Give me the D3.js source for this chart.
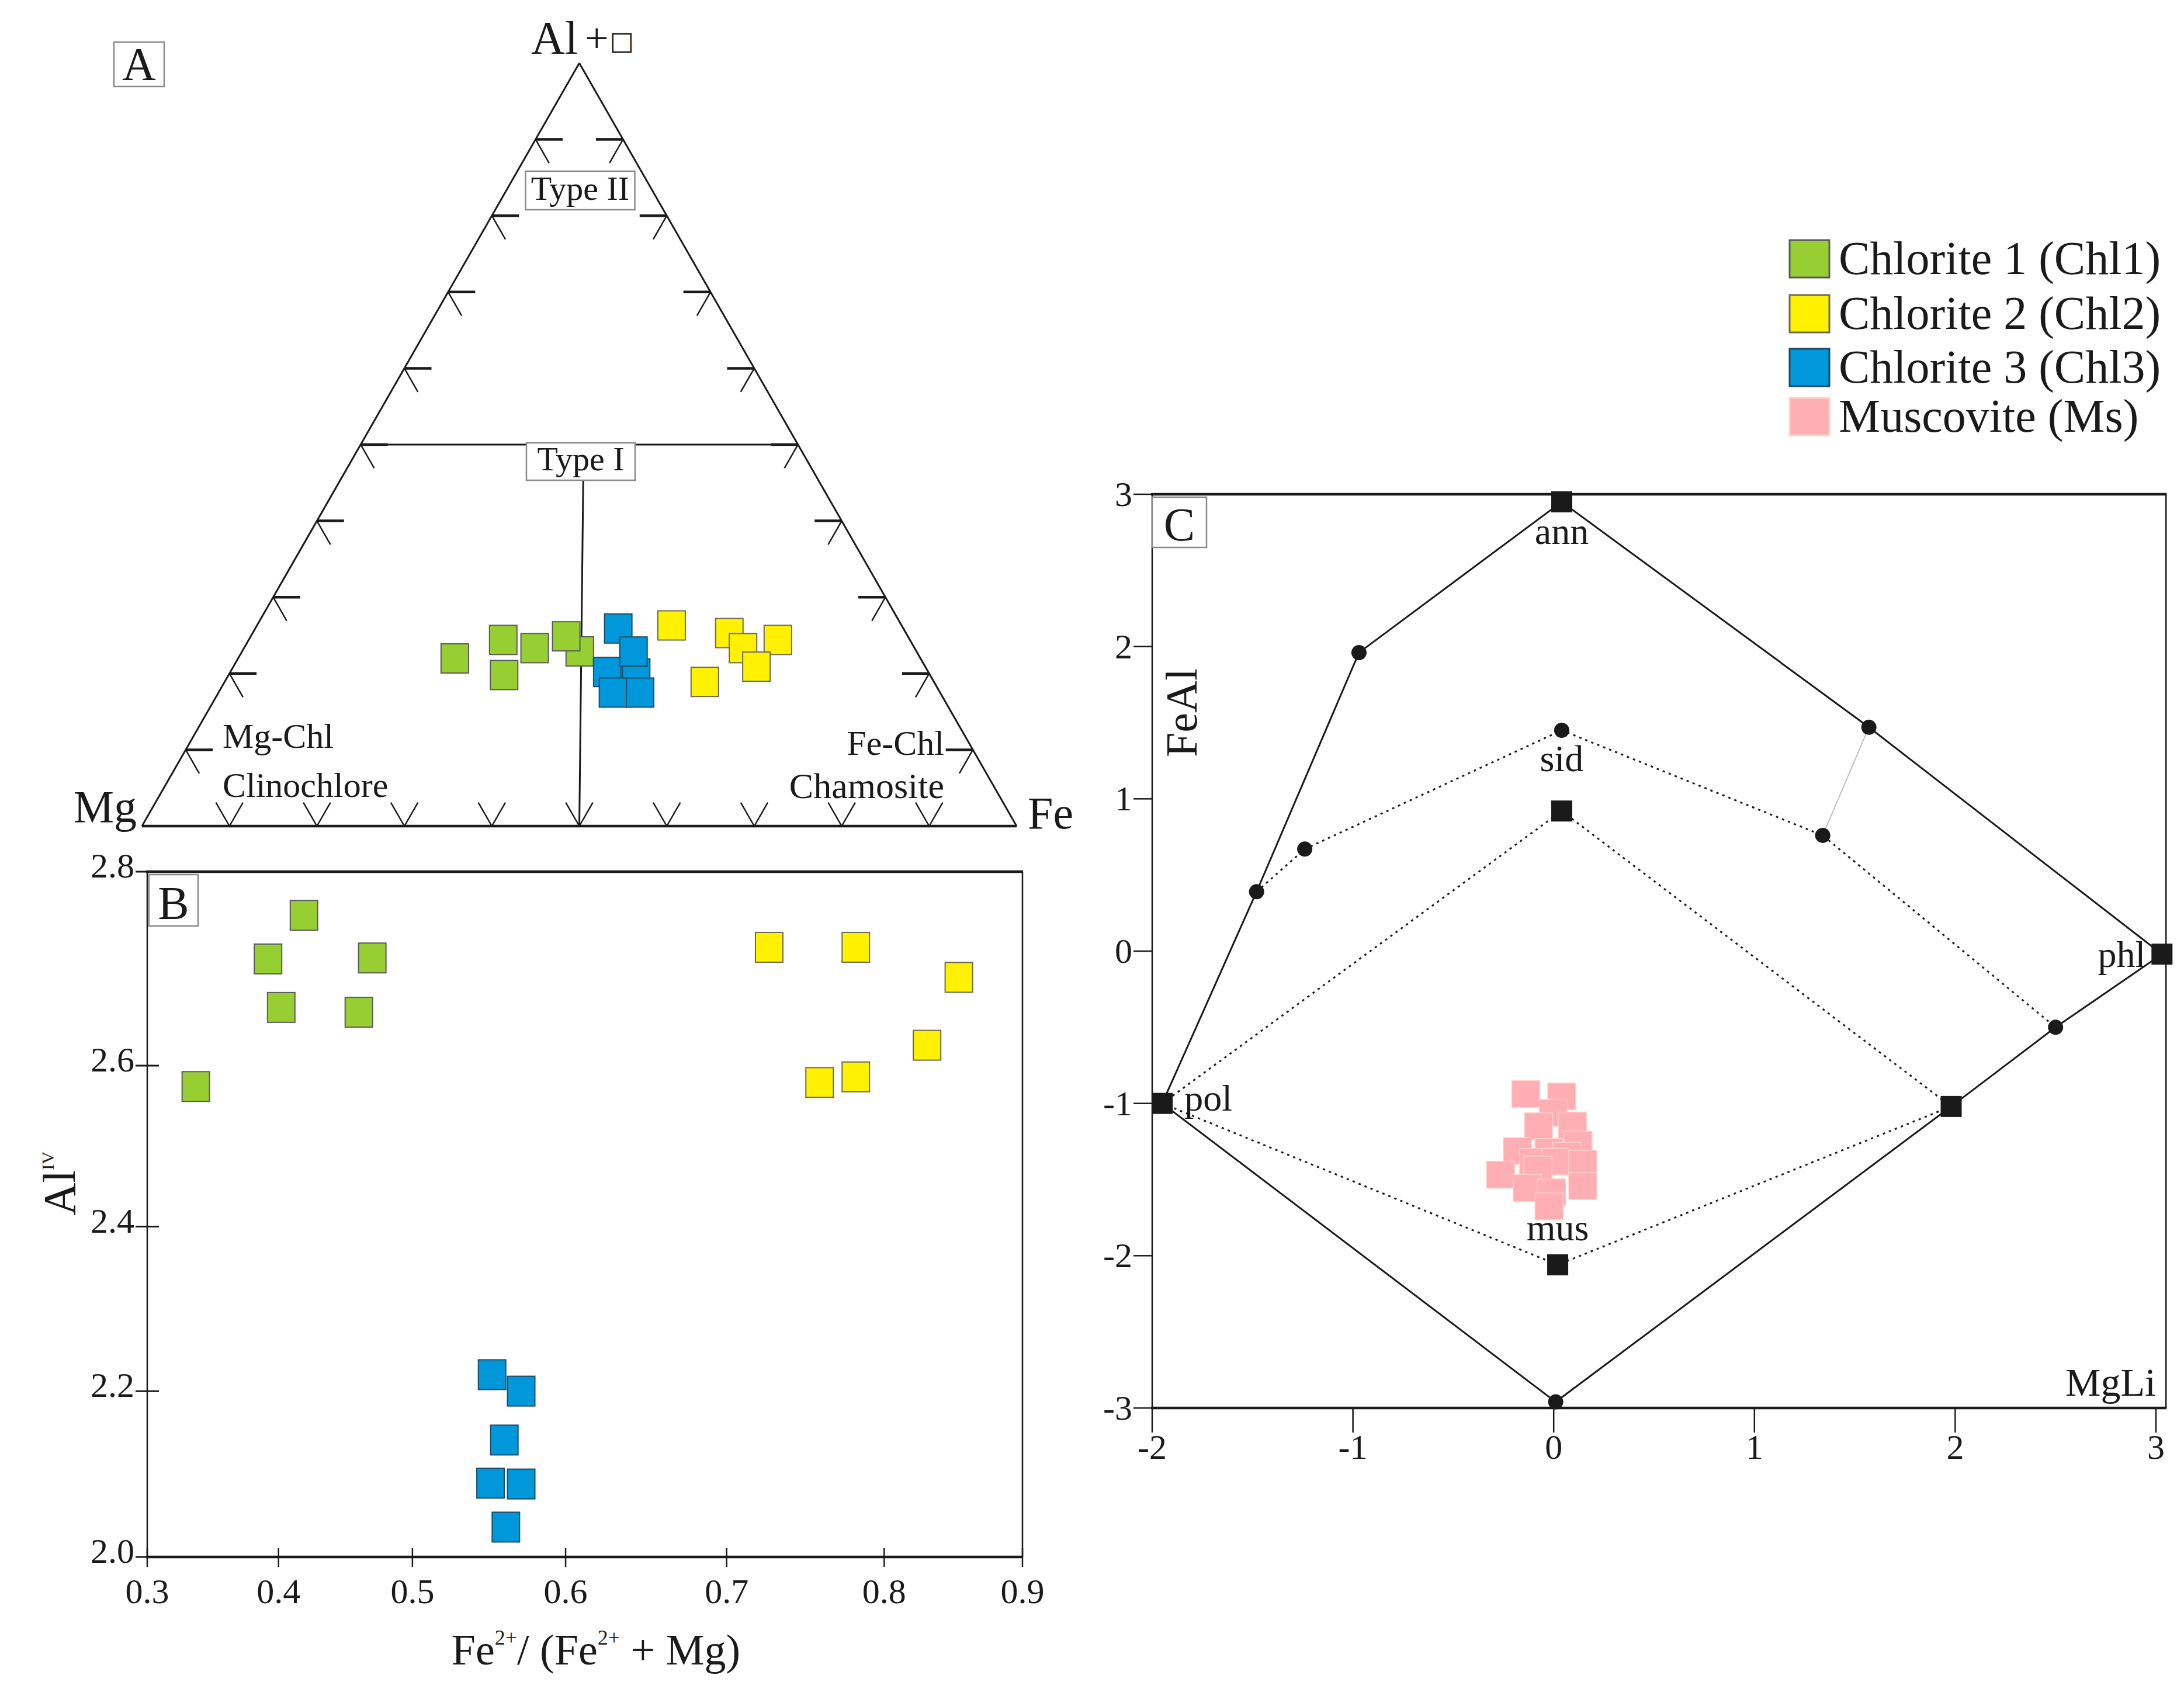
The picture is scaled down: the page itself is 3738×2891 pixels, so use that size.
<!DOCTYPE html>
<html><head><meta charset="utf-8">
<script src="https://cdn.jsdelivr.net/npm/d3@7"></script>
<style>
body{margin:0;background:#fff}
svg{display:block}
</style>
</head><body>
<script>
// ================= DATA =================
const seriesNames  = ["Chlorite 1 (Chl1)", "Chlorite 2 (Chl2)", "Chlorite 3 (Chl3)", "Muscovite (Ms)"];
const seriesFill   = ["#97CF33", "#FFF100", "#0098DA", "#FFAFB3"];
const seriesStroke = ["#5a5a5a", "#6a6a50", "#1d4a66", "#ffd2cc"];

// Panel A – ternary, each point [Mg, Fe, Al+□]
const ternaryTicks = [0.1, 0.2, 0.3, 0.4, 0.5, 0.6, 0.7, 0.8, 0.9];
const chl1Ternary = [[0.533,0.248,0.220],[0.465,0.291,0.244],[0.487,0.315,0.198],[0.434,0.332,0.233],[0.385,0.386,0.229],[0.391,0.361,0.249]];
const chl3Ternary = [[0.326,0.415,0.259],[0.367,0.431,0.202],[0.335,0.465,0.200],[0.324,0.448,0.229],[0.374,0.451,0.175],[0.343,0.482,0.175]];
const chl2Ternary = [[0.263,0.474,0.263],[0.202,0.545,0.253],[0.196,0.570,0.233],[0.151,0.605,0.244],[0.193,0.598,0.209],[0.262,0.549,0.189]];
const typeIGuide = [[0.5,0.5,0.0],[0.269,0.278,0.453]];

// Panel B – Fe2+/(Fe2++Mg) vs AlIV
const bXTicks = [0.3, 0.4, 0.5, 0.6, 0.7, 0.8, 0.9];
const bYTicks = [2.0, 2.2, 2.4, 2.6, 2.8];
const chl1Ratio = [0.337, 0.392, 0.402, 0.419, 0.460, 0.470];
const chl1AlIV  = [2.574, 2.710, 2.660, 2.755, 2.655, 2.711];
const chl2Ratio = [0.727, 0.782, 0.854, 0.759, 0.782, 0.831];
const chl2AlIV  = [2.722, 2.722, 2.691, 2.579, 2.586, 2.621];
const chl3Ratio = [0.552, 0.571, 0.560, 0.551, 0.571, 0.561];
const chl3AlIV  = [2.220, 2.200, 2.141, 2.089, 2.088, 2.036];

// Panel C – MgLi vs FeAl
const cXTicks = [-2, -1, 0, 1, 2, 3];
const cYTicks = [3, 2, 1, 0, -1, -2, -3];
const cSquares = [[-1.95,-1.00],[0.04,2.95],[3.03,-0.02],[0.02,-2.06],[0.04,0.92],[1.98,-1.02]];
const cCircles = [[-1.48,0.39],[-0.97,1.96],[1.57,1.47],[2.50,-0.50],[0.01,-2.96],[-1.24,0.67],[0.04,1.45],[1.34,0.76]];
const cSolidOutline = [[-1.95,-1.00],[-1.48,0.39],[-0.97,1.96],[0.04,2.95],[1.57,1.47],[3.03,-0.02],[2.50,-0.50],[1.98,-1.02],[0.01,-2.96],[-1.95,-1.00]];
const cDottedSid   = [[-1.48,0.39],[-1.24,0.67],[0.04,1.45],[1.34,0.76],[2.50,-0.50]];
const cDottedUpper = [[-1.95,-1.00],[0.04,0.92],[1.98,-1.02]];
const cDottedLower = [[-1.95,-1.00],[0.02,-2.06],[1.98,-1.02]];
const cThinLink    = [[1.57,1.47],[1.34,0.76]];
const cLabels = ["ann", "sid", "mus", "pol", "phl"];
const cLabelMgLi = [0.04, 0.04, 0.02, -1.95, 3.03];
const cLabelFeAl = [2.95, 1.45, -2.06, -1.00, -0.02];
const msMgLi = [-0.139,0.040,-0.002,-0.076,0.093,0.121,-0.181,-0.023,0.065,-0.100,0.012,0.145,-0.079,-0.265,-0.132,-0.011,0.145,-0.023];
const msFeAl = [-0.939,-0.954,-1.062,-1.150,-1.145,-1.271,-1.313,-1.319,-1.344,-1.384,-1.382,-1.396,-1.435,-1.468,-1.555,-1.584,-1.541,-1.676];

// ================= SETUP =================
const W = 3738, H = 2891;
const FONT = "'Liberation Serif','Times New Roman',serif";
const INK = "#1a1a1a";
const svg = d3.select("body").append("svg")
  .attr("width", W).attr("height", H).attr("viewBox", `0 0 ${W} ${H}`)
  .style("font-family", FONT);
svg.append("rect").attr("width", W).attr("height", H).attr("fill", "#fff");

function seg(g, p, q, w, col) {
  g.append("line").attr("x1", p[0]).attr("y1", p[1]).attr("x2", q[0]).attr("y2", q[1])
    .attr("stroke", col || INK).attr("stroke-width", w || 3).attr("stroke-linecap", "butt");
}
function txt(g, x, y, s, size, anchor) {
  return g.append("text").attr("x", x).attr("y", y).attr("font-size", size)
    .attr("text-anchor", anchor || "start").attr("fill", INK).text(s);
}
function labelBox(g, x, y, w, h, letter, size) {
  g.append("rect").attr("x", x).attr("y", y).attr("width", w).attr("height", h)
    .attr("fill", "#fff").attr("stroke", "#8a8a8a").attr("stroke-width", 2.5);
  txt(g, x + w / 2, y + h * 0.86, letter, size, "middle");
}
function squares(g, pts, w, h, fill, stroke, sw) {
  g.selectAll(null).data(pts).enter().append("rect")
    .attr("x", d => d[0] - w / 2).attr("y", d => d[1] - h / 2)
    .attr("width", w).attr("height", h)
    .attr("fill", fill).attr("stroke", stroke).attr("stroke-width", sw == null ? 2 : sw);
}

// ================= PANEL A (ternary) =================
const gA = svg.append("g");
const tx = d3.scaleLinear().domain([0, 1]).range([243, 1740]);
const ty = d3.scaleLinear().domain([0, 1]).range([1414, 108]);
const tp = (mg, fe, al) => { const s = mg + fe + al; return [tx((fe + al / 2) / s), ty(al / s)]; };

// sides
seg(gA, tp(1,0,0), tp(0,0,1), 3);
seg(gA, tp(0,1,0), tp(0,0,1), 3);
seg(gA, tp(1,0,0), tp(0,1,0), 4.5);

// ticks
const dT = 0.031;
ternaryTicks.forEach(t => {
  const pL = tp(1 - t, 0, t);
  seg(gA, pL, tp(1 - t - dT, dT, t), 4.5);
  seg(gA, pL, tp(1 - t, dT, t - dT), 2.5);
  const pR = tp(0, 1 - t, t);
  seg(gA, pR, tp(dT, 1 - t - dT, t), 4.5);
  seg(gA, pR, tp(dT, 1 - t, t - dT), 2.5);
  const pB = tp(1 - t, t, 0);
  seg(gA, pB, tp(1 - t, t - dT, dT), 2.5);
  seg(gA, pB, tp(1 - t - dT, t, dT), 2.5);
});
// Type I boundary and guide
seg(gA, tp(0.5, 0, 0.5), tp(0, 0.5, 0.5), 3);
seg(gA, tp(...typeIGuide[0]), tp(...typeIGuide[1]), 3);

// boxed field labels
function fieldBox(g, cx, y0, w, h, s) {
  g.append("rect").attr("x", cx - w / 2).attr("y", y0).attr("width", w).attr("height", h)
    .attr("fill", "#fff").attr("stroke", "#8a8a8a").attr("stroke-width", 2.5);
  txt(g, cx, y0 + h * 0.74, s, 58, "middle");
}
fieldBox(gA, 993, 293, 187, 66, "Type II");
fieldBox(gA, 994, 758, 186, 64, "Type I");

// apex / corner labels
const apex = gA.append("text").attr("x", 909).attr("y", 92).attr("fill", INK).attr("font-size", 80);
apex.append("tspan").text("Al");
apex.append("tspan").attr("font-size", 72).attr("dx", 12).attr("dy", -3).text("+");
apex.append("tspan").attr("font-size", 44).attr("dx", 2).attr("dy", -4).attr("font-family", "'DejaVu Sans',sans-serif").text("□");
txt(gA, 234, 1407, "Mg", 78, "end");
txt(gA, 1759, 1418, "Fe", 78, "start");
txt(gA, 381, 1280, "Mg-Chl", 60);
txt(gA, 381, 1364, "Clinochlore", 60);
txt(gA, 1616, 1292, "Fe-Chl", 60, "end");
txt(gA, 1616, 1366, "Chamosite", 62, "end");
labelBox(gA, 195, 72, 86, 76, "A", 80);

// data
squares(gA, chl1Ternary.map(d => tp(...d)), 47, 50, seriesFill[0], seriesStroke[0]);
squares(gA, chl3Ternary.map(d => tp(...d)), 47, 50, seriesFill[2], seriesStroke[2]);
squares(gA, chl2Ternary.map(d => tp(...d)), 47, 50, seriesFill[1], seriesStroke[1]);

// ================= PANEL B =================
const gB = svg.append("g");
const bL = 252, bR = 1750, bT = 1492, bBot = 2665;
const bXFrac = [0, 0.150, 0.303, 0.478, 0.662, 0.842, 1];
const bYFrac = [0, 0.242, 0.482, 0.717, 1];
const xB = d3.scaleLinear().domain(bXTicks).range(bXFrac.map(f => bL + f * (bR - bL)));
const yB = d3.scaleLinear().domain(bYTicks).range(bYFrac.map(f => bBot - f * (bBot - bT)));

seg(gB, [bL, bT], [bL, bBot], 2.5);
seg(gB, [bR, bT], [bR, bBot], 2.5);
seg(gB, [bL - 2, bT], [bR + 1, bT], 4.5);
seg(gB, [bL - 2, bBot], [bR + 1, bBot], 4.5);
bYTicks.forEach(v => {
  seg(gB, [bL - 20, yB(v)], [bL + 20, yB(v)], 3);
  txt(gB, bL - 22, yB(v) + 10, v.toFixed(1), 60, "end");
});
bXTicks.forEach(v => {
  seg(gB, [xB(v), bBot - 15], [xB(v), bBot + 17], 2.5);
  txt(gB, xB(v), 2744, v.toFixed(1), 60, "middle");
});
labelBox(gB, 255, 1497, 84, 88, "B", 80);

// axis titles
const yTitle = gB.append("text").attr("transform", "translate(128,2026) rotate(-90)")
  .attr("text-anchor", "middle").attr("font-size", 78).attr("fill", INK);
yTitle.append("tspan").text("Al");
yTitle.append("tspan").attr("font-size", 30).attr("dy", -36).text("IV");
const xTitle = gB.append("text").attr("x", 1020).attr("y", 2849)
  .attr("text-anchor", "middle").attr("font-size", 74).attr("fill", INK);
xTitle.append("tspan").text("Fe");
xTitle.append("tspan").attr("font-size", 36).attr("dy", -34).text("2+");
xTitle.append("tspan").attr("dy", 34).text("/ (Fe");
xTitle.append("tspan").attr("font-size", 36).attr("dy", -34).text("2+");
xTitle.append("tspan").attr("dy", 34).text(" + Mg)");

// data
const zipB = (xs, ys) => xs.map((x, i) => [xB(x), yB(ys[i])]);
squares(gB, zipB(chl1Ratio, chl1AlIV), 47, 51, seriesFill[0], seriesStroke[0]);
squares(gB, zipB(chl2Ratio, chl2AlIV), 47, 51, seriesFill[1], seriesStroke[1]);
squares(gB, zipB(chl3Ratio, chl3AlIV), 47, 51, seriesFill[2], seriesStroke[2]);

// ================= PANEL C =================
const gC = svg.append("g");
const xC = d3.scaleLinear().domain([-2, 3]).range([1972, 3690]);
const yC = d3.scaleLinear().domain([-3, 3]).range([2410, 846]);
const cRight = xC(3.05);

seg(gC, [xC(-2), yC(3)], [xC(-2), yC(-3)], 2.5);
seg(gC, [cRight, yC(3)], [cRight, yC(-3)], 2.5);
seg(gC, [xC(-2) - 2, yC(3)], [cRight + 1, yC(3)], 4.5);
seg(gC, [xC(-2) - 2, yC(-3)], [cRight + 1, yC(-3)], 4.5);
cYTicks.forEach(v => {
  seg(gC, [xC(-2) - 32, yC(v)], [xC(-2), yC(v)], 2.5);
  txt(gC, xC(-2) - 34, yC(v) + 20, String(v), 60, "end");
});
cXTicks.forEach(v => {
  seg(gC, [xC(v), yC(-3)], [xC(v), yC(-3) + 42], 2.5);
  txt(gC, xC(v), 2497, String(v), 60, "middle");
});
labelBox(gC, 1972, 851, 93, 86, "C", 80);
gC.append("text").attr("transform", "translate(2048,1220) rotate(-90)")
  .attr("text-anchor", "middle").attr("font-size", 76).attr("fill", INK).text("FeAl");
txt(gC, 3690, 2389, "MgLi", 68, "end");

const lineC = d3.line().x(d => xC(d[0])).y(d => yC(d[1]));
gC.append("path").attr("d", lineC(cThinLink)).attr("fill", "none").attr("stroke", "#b0b0b0").attr("stroke-width", 1.5);
[cDottedSid, cDottedUpper, cDottedLower].forEach(p =>
  gC.append("path").attr("d", lineC(p)).attr("fill", "none").attr("stroke", INK)
    .attr("stroke-width", 3).attr("stroke-dasharray", "4 7"));
gC.append("path").attr("d", lineC(cSolidOutline)).attr("fill", "none").attr("stroke", INK).attr("stroke-width", 3);

squares(gC, msMgLi.map((x, i) => [xC(x), yC(msFeAl[i])]), 48, 46, seriesFill[3], seriesStroke[3], 1.5);

squares(gC, cSquares.map(d => [xC(d[0]), yC(d[1])]), 36, 36, INK, "none", 0);
gC.selectAll(null).data(cCircles).enter().append("circle")
  .attr("cx", d => xC(d[0])).attr("cy", d => yC(d[1])).attr("r", 13).attr("fill", INK);

// end-member labels
const cLabelOffsets = [[0, 72, "middle"], [0, 70, "middle"], [0, -42, "middle"], [38, 12, "start"], [-28, 22, "end"]];
cLabels.forEach((s, i) => {
  const o = cLabelOffsets[i];
  txt(gC, xC(cLabelMgLi[i]) + o[0], yC(cLabelFeAl[i]) + o[1], s, 64, o[2]);
});

// ================= LEGEND =================
const gL = svg.append("g");
const legendY = [443, 537, 629, 713];
seriesNames.forEach((s, i) => {
  gL.append("rect").attr("x", 3063).attr("y", legendY[i] - 32).attr("width", 68).attr("height", 64)
    .attr("fill", seriesFill[i]).attr("stroke", i === 3 ? "#ffd2c4" : seriesStroke[i]).attr("stroke-width", 3);
  txt(gL, 3147, legendY[i] + 26, s, 80);
});
</script>
</body></html>
